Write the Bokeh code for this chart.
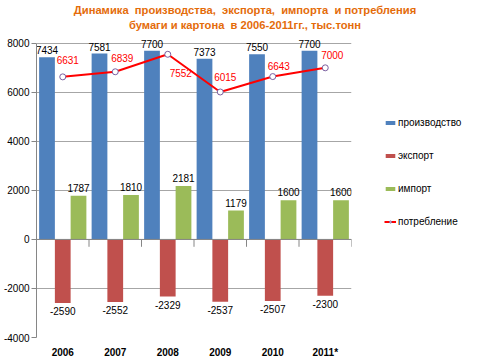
from bokeh.plotting import figure
from bokeh.layouts import column
from bokeh.models import (ColumnDataSource, Legend, LegendItem, FixedTicker,
                          Span, Range1d, FactorRange, Div)
from bokeh.transform import dodge
from bokeh.core.properties import value
from bokeh.embed import file_html
from bokeh.resources import INLINE

# ---- data ----
years = ["2006", "2007", "2008", "2009", "2010", "2011*"]
production = [7434, 7581, 7700, 7373, 7550, 7700]
export = [-2590, -2552, -2329, -2537, -2507, -2300]
imports = [1787, 1810, 2181, 1179, 1600, 1600]
consumption = [6631, 6839, 7552, 6015, 6643, 7000]
y_ticks = [-4000, -2000, 0, 2000, 4000, 6000, 8000]
title_lines = ["Динамика&nbsp; производства,&nbsp; экспорта,&nbsp; импорта&nbsp; и потребления",
               "бумаги и картона&nbsp; в 2006-2011гг., тыс.тонн"]
series_names = ["производство", "экспорт", "импорт", "потребление"]

# label offsets (pixels) for the consumption labels, as placed in the original
cons_dx = [5, 7, 13, 5, 6, 7]
cons_dy = [-17, -14, 19, -15, -11, -13]

FONT = "Liberation Sans"
BLUE, RED, GREEN = "#4F81BD", "#C0504D", "#9BBB59"
LINE_RED = "#FF0000"
GRID = "#A6A6A6"
AXIS = "#868686"
TITLE_C = "#E46C0A"

src = ColumnDataSource(dict(
    year=years, prod=production, exp=export, imp=imports, cons=consumption,
    prod_t=[str(v) for v in production], exp_t=[str(v) for v in export],
    imp_t=[str(v) for v in imports], cons_t=[str(v) for v in consumption],
    cdx=cons_dx, cdy=cons_dy,
))

p = figure(x_range=FactorRange(*years, range_padding=0), y_range=Range1d(-4000, 8400),
           frame_width=315, frame_height=304, min_border_left=36, min_border_right=115,
           min_border_top=1, min_border_bottom=19,
           output_backend="svg", toolbar_location=None)
p.outline_line_color = None
p.xgrid.grid_line_color = None
p.ygrid.grid_line_color = GRID
p.ygrid.grid_line_width = 1

# y axis
p.yaxis.ticker = FixedTicker(ticks=y_ticks)
p.yaxis.bounds = (y_ticks[0], y_ticks[-1])
p.yaxis.major_label_overrides = {t: str(t) for t in y_ticks}
p.yaxis.axis_line_color = AXIS
p.yaxis.major_tick_line_color = AXIS
p.yaxis.major_tick_out = 5
p.yaxis.major_tick_in = 0
p.yaxis.minor_tick_line_color = None
p.yaxis.major_label_standoff = 2
p.yaxis.major_label_text_font = FONT
p.yaxis.major_label_text_font_size = "10px"
p.yaxis.major_label_text_color = "#000000"

# x axis (category labels at the bottom)
p.xaxis.axis_line_color = None
p.xaxis.major_tick_line_color = None
p.xaxis.minor_tick_line_color = None
p.xaxis.major_label_standoff = 3
p.xaxis.major_label_text_font = FONT
p.xaxis.major_label_text_font_size = "10px"
p.xaxis.major_label_text_font_style = "bold"
p.xaxis.major_label_text_color = "#000000"

# zero line with category separators
p.add_layout(Span(location=0, dimension="width", line_color=AXIS, line_width=1))
bounds = list(range(1, len(years) + 1))
p.segment(x0=bounds, x1=bounds, y0=[0] * len(bounds), y1=[-300] * len(bounds),
          line_color=AXIS, line_width=1)

bw = 0.3
r_prod = p.vbar(x=dodge("year", -0.3, range=p.x_range), top="prod", bottom=0, width=bw,
                source=src, fill_color=BLUE, line_color=None)
r_exp = p.vbar(x=dodge("year", 0.0, range=p.x_range), top="exp", bottom=0, width=bw,
               source=src, fill_color=RED, line_color=None)
r_imp = p.vbar(x=dodge("year", 0.3, range=p.x_range), top="imp", bottom=0, width=bw,
               source=src, fill_color=GREEN, line_color=None)
r_line = p.line(x="year", y="cons", source=src, line_color=LINE_RED, line_width=2)
r_pts = p.scatter(x="year", y="cons", source=src, size=6, marker="circle",
                  fill_color="white", line_color="#7B5FA0", line_width=1)

common = dict(text_font=value(FONT), text_font_size="10px", text_align="center")
p.text(x=dodge("year", -0.3, range=p.x_range), y="prod", text="prod_t", source=src,
       text_baseline="bottom", y_offset=-3, text_color="#000000", **common)
p.text(x=dodge("year", 0.0, range=p.x_range), y="exp", text="exp_t", source=src,
       text_baseline="top", y_offset=4, text_color="#000000", **common)
p.text(x=dodge("year", 0.3, range=p.x_range), y="imp", text="imp_t", source=src,
       text_baseline="bottom", y_offset=-4, text_color="#000000", **common)
p.text(x="year", y="cons", text="cons_t", source=src, text_baseline="middle",
       x_offset="cdx", y_offset="cdy", text_color=LINE_RED, **common)

legend = Legend(items=[
    LegendItem(label=series_names[0], renderers=[r_prod]),
    LegendItem(label=series_names[1], renderers=[r_exp]),
    LegendItem(label=series_names[2], renderers=[r_imp]),
    LegendItem(label=series_names[3], renderers=[r_line, r_pts]),
], location=(33, 106), orientation="vertical",
   glyph_width=12, glyph_height=5, label_height=20, spacing=13, padding=0, margin=0,
   label_standoff=2, label_text_font=FONT, label_text_font_size="10px",
   label_text_color="#000000", border_line_color=None, background_fill_alpha=0)
p.add_layout(legend, "right")

title = Div(text="<br>".join(title_lines), width=466, height=32,
            styles={"text-align": "center", "color": TITLE_C, "font-family": FONT,
                    "font-size": "11.2px", "font-weight": "bold", "line-height": "15px",
                    "padding-left": "24px", "padding-top": "3px",
                    "box-sizing": "border-box", "width": "466px", "margin": "0"})

layout = column(title, p, spacing=0)
open("out.html", "w").write(file_html(layout, INLINE))
